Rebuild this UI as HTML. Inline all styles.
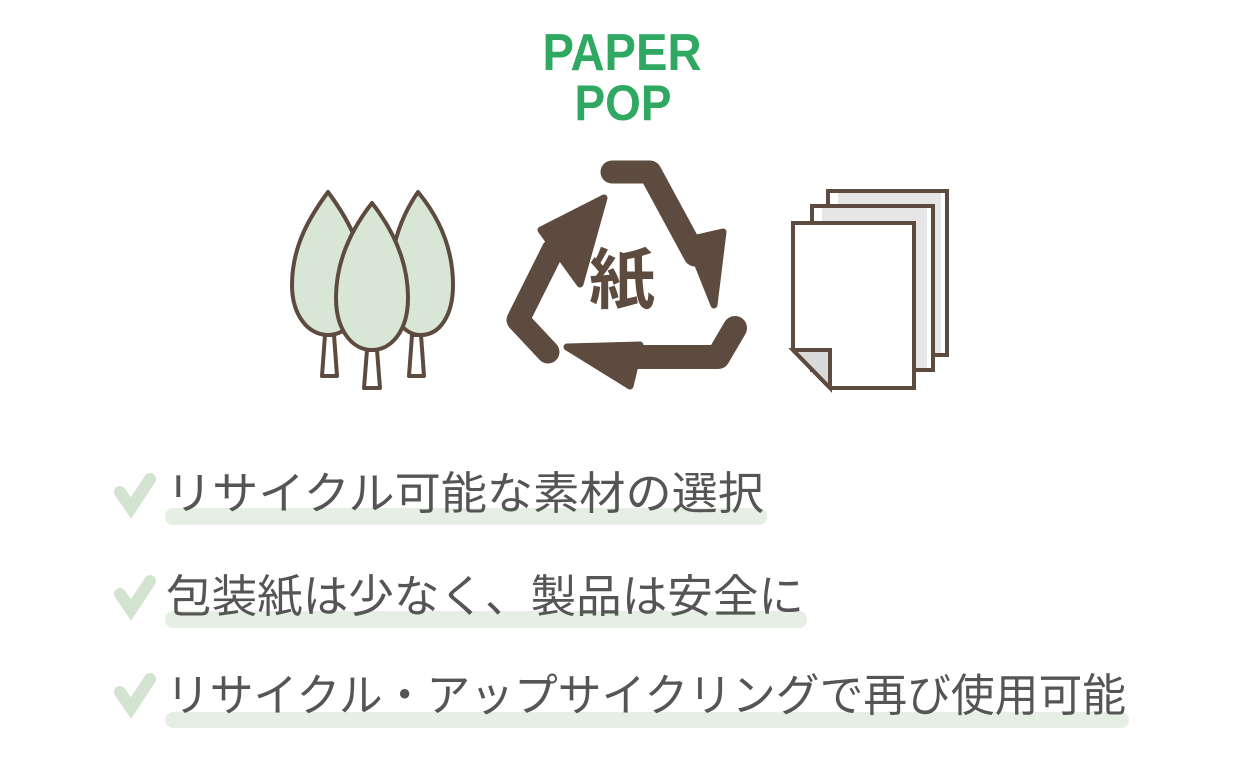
<!DOCTYPE html>
<html><head><meta charset="utf-8"><style>
html,body{margin:0;padding:0;background:#fff;}
svg{display:block}
</style></head><body>
<svg width="1240" height="770" viewBox="0 0 1240 770" xmlns="http://www.w3.org/2000/svg">
<rect width="1240" height="770" fill="#fff"/>
<text x="622" y="70" text-anchor="middle" font-family="Liberation Sans, sans-serif" font-weight="bold" font-size="52" fill="#2fa862" textLength="159" lengthAdjust="spacingAndGlyphs">PAPER</text>
<text x="623" y="120" text-anchor="middle" font-family="Liberation Sans, sans-serif" font-weight="bold" font-size="50" fill="#2fa862" textLength="97" lengthAdjust="spacingAndGlyphs">POP</text>

<g stroke="#5e4b3f" stroke-width="4" fill="#d7e6d5" stroke-linejoin="round">
<path d="M325,335 L322,376 L337,376 L334,335Z" fill="#fff"/>
<path d="M412,335 L409,376 L424,376 L421,335Z" fill="#fff"/>
<path d="M367,350 L364,388 L380,388 L377,350Z" fill="#fff"/>
<path d="M328,192 C345,215 364,245 364,285 C364,315 348,335 328,335 C308,335 292,315 292,285 C292,245 311,215 328,192Z"/>
<path d="M418,192 C437,215 453,245 453,285 C453,315 440,335 421,335 C402,335 390,315 390,285 C390,245 402,215 418,192Z"/>
<path d="M372,203 C390,226 408,258 408,298 C408,330 392,350 372,350 C352,350 336,330 336,298 C336,258 354,226 372,203Z"/>
</g>

<g fill="#5e4b3f" stroke="#5e4b3f" stroke-linecap="round" stroke-linejoin="round">
<polyline points="612,172 650,172 695,255" fill="none" stroke-width="23"/>
<polygon points="688,240 723,232 714,305" stroke-width="7"/>
<polyline points="735,328 718,357 630,357" fill="none" stroke-width="24"/>
<polygon points="567,347 640,345 630,386" stroke-width="7"/>
<polyline points="548,352 518,320 553,250" fill="none" stroke-width="23"/>
<polygon points="541,230 604,198 580,284" stroke-width="7"/>
</g>
<text x="622" y="303" text-anchor="middle" font-family="Noto Sans CJK JP, sans-serif" font-weight="bold" font-size="66" fill="#5e4b3f">紙</text>

<g stroke="#5e4b3f" stroke-width="4" stroke-linejoin="miter">
<rect x="828" y="191" width="119" height="164" fill="#fff"/>
<rect x="838" y="193" width="103" height="160" fill="#e6e6e6" stroke="none"/>
<rect x="812" y="206" width="121" height="164" fill="#fff"/>
<rect x="822" y="208" width="105" height="160" fill="#e6e6e6" stroke="none"/>
<path d="M793,223 L914,223 L914,388 L830,388 L793,350Z" fill="#fff"/>
<path d="M793,350 L830,350 L830,388Z" fill="#d9d9d9"/>
</g>

<g fill="#e6efe3">
<rect x="165" y="508" width="602" height="17" rx="8"/>
<rect x="165" y="611" width="642" height="17" rx="8"/>
<rect x="165" y="712" width="964" height="16" rx="8"/>
</g>
<g stroke="#d2e4cf" stroke-width="12" stroke-linecap="round" fill="none">
<polyline points="120,492 131,508 150,479"/>
<polyline points="120,594 131,610 150,581"/>
<polyline points="120,692 131,708 150,679"/>
</g>
<g font-family="Liberation Sans, Noto Sans CJK JP, sans-serif" font-size="45" fill="#555">
<text x="166" y="509" textLength="598" lengthAdjust="spacingAndGlyphs">リサイクル可能な素材の選択</text>
<text x="166" y="612" textLength="638" lengthAdjust="spacingAndGlyphs">包装紙は少なく、製品は安全に</text>
<text x="166" y="711" textLength="960" lengthAdjust="spacingAndGlyphs">リサイクル・アップサイクリングで再び使用可能</text>
</g>
</svg>
</body></html>
